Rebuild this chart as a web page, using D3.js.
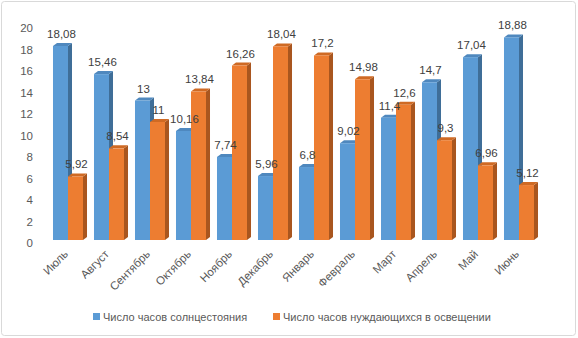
<!DOCTYPE html>
<html><head><meta charset="utf-8">
<script src="https://cdn.jsdelivr.net/npm/d3@7"></script>
<style>body{margin:0;background:#fff}svg{display:block}</style>
</head><body>
<script>
const months = ["Июль","Август","Сентябрь","Октябрь","Ноябрь","Декабрь","Январь","Февраль","Март","Апрель","Май","Июнь"];
const sunHours = [18.08,15.46,13,10.16,7.74,5.96,6.8,9.02,11.4,14.7,17.04,18.88];
const lightHours = [5.92,8.54,11,13.84,16.26,18.04,17.2,14.98,12.6,9.3,6.96,5.12];
const seriesNames = ["Число часов солнцестояния","Число часов нуждающихся в освещении"];
const yTicks = [0,2,4,6,8,10,12,14,16,18,20];

const W=578,H=338;
const font="'Liberation Sans', Arial, sans-serif";
const colors=[{front:"#5B9BD5",side:"#3F6E98",top:"#4F88BE"},{front:"#ED7D31",side:"#A9561F",top:"#CF6A24"}];
const svg=d3.select("body").append("svg").attr("width",W).attr("height",H);
svg.append("rect").attr("x",1.5).attr("y",1.5).attr("width",W-4).attr("height",H-4).attr("rx",3)
  .attr("fill","#fff").attr("stroke","#D9D9D9").attr("stroke-width",1);

const y=d3.scaleLinear().domain([0,20]).range([240,25.4]);
const x=d3.scaleBand().domain(months).range([47.5,539.5]).paddingInner(0.268).paddingOuter(0.134);
const xs=d3.scaleBand().domain([0,1]).range([0,x.bandwidth()]);
const dx=4, dy=3;

// y axis labels
svg.append("g").selectAll("text").data(yTicks).join("text")
  .attr("x",33).attr("y",d=>y(d)+3).attr("dy","0.35em").attr("text-anchor","end")
  .attr("font-family",font).attr("font-size",11.5).attr("fill","#595959").text(d=>d);

const data=[sunHours,lightHours];
const g=svg.append("g");
months.forEach((m,i)=>{
  data.forEach((vals,s)=>{
    const v=vals[i];
    const x0=x(m)+xs(s), w=xs.bandwidth();
    const yt=y(v), yb=y(0);
    const c=colors[s];
    // side
    g.append("path").attr("d",`M${x0+w},${yb}L${x0+w+dx},${yb-dy}L${x0+w+dx},${yt-dy}L${x0+w},${yt}Z`).attr("fill",c.side);
    // top
    g.append("path").attr("d",`M${x0},${yt}L${x0+dx},${yt-dy}L${x0+w+dx},${yt-dy}L${x0+w},${yt}Z`).attr("fill",c.top);
    // front
    g.append("rect").attr("x",x0).attr("y",yt).attr("width",w).attr("height",yb-yt).attr("fill",c.front);
  });
});

// value labels
const fmt=v=>String(v).replace(".",",");
months.forEach((m,i)=>{
  data.forEach((vals,s)=>{
    const v=vals[i];
    svg.append("text").attr("x",x(m)+xs(s)+xs.bandwidth()/2+1).attr("y",y(v)-8)
      .attr("text-anchor","middle").attr("font-family",font).attr("font-size",11.5).attr("fill","#404040").text(fmt(v));
  });
});

// x labels
svg.append("g").selectAll("text").data(months).join("text")
  .attr("transform",d=>`translate(${x(d)+x.bandwidth()/2-2},${252}) rotate(-45)`)
  .attr("text-anchor","end").attr("dy","0.35em")
  .attr("font-family",font).attr("font-size",11.5).attr("fill","#595959").text(d=>d);

// legend
const leg=[{x:93,c:colors[0].front,t:seriesNames[0]},{x:273,c:colors[1].front,t:seriesNames[1]}];
leg.forEach(l=>{
  svg.append("rect").attr("x",l.x).attr("y",313).attr("width",7).attr("height",7).attr("fill",l.c);
  svg.append("text").attr("x",l.x+10).attr("y",317).attr("dy","0.35em")
    .attr("font-family",font).attr("font-size",11).attr("fill","#595959").text(l.t);
});
</script>
</body></html>
